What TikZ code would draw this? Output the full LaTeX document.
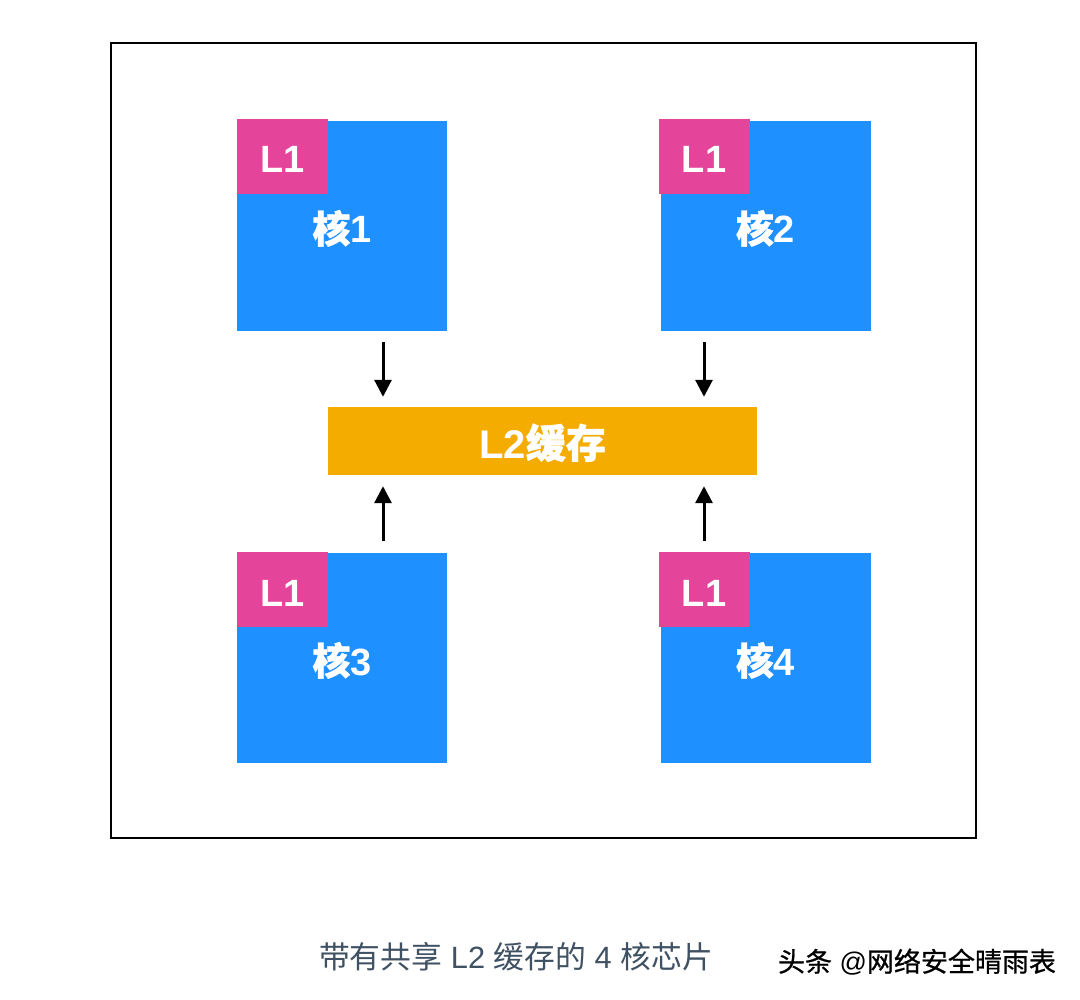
\documentclass[tikz,border=0pt]{standalone}
\usepackage{fontspec}
\setmainfont{Liberation Sans}
\newfontfamily\cjk{Noto Sans CJK SC}
\newfontfamily\heavycjk[FakeBold=1]{Noto Sans CJK SC}
\newfontfamily\markcjk[FakeBold=0.8]{Noto Sans CJK SC}
\usepackage{xcolor}
\usetikzlibrary{arrows.meta}
\definecolor{coreblue}{HTML}{1E90FF}
\definecolor{lonepink}{HTML}{E4459B}
\definecolor{ltwoamber}{HTML}{F4AC00}
\definecolor{captionslate}{HTML}{3F5163}
\tikzset{
    corebox/.style={fill=coreblue, text=white, minimum width=210pt, minimum height=210pt,
        inner sep=0pt, text height=34pt, text depth=0pt, font=\fontsize{38}{38}\selectfont\bfseries},
    lonebox/.style={fill=lonepink, text=white, minimum width=91pt, minimum height=75pt,
        inner sep=0pt, text height=33pt, text depth=0pt, font=\fontsize{38}{38}\selectfont\bfseries},
    flowarrow/.style={line width=3pt, -{Triangle[length=17pt,width=17pt]}}
}
\begin{document}
\begin{tikzpicture}[x=1pt,y=-1pt]
        \useasboundingbox (0,0) rectangle (1080,1000);
        \node [draw=black, line width=1.5pt, minimum width=865pt, minimum height=795pt, inner sep=0pt]
            (chip) at (543.5,440.5) {};

        \node [fill=ltwoamber, text=white, minimum width=429pt, minimum height=68pt, inner sep=0pt,
            text height=34pt, text depth=0pt,
            font=\fontsize{40}{40}\selectfont\bfseries] (cache) at (542.5,441) {L2{\heavycjk 缓存}};

        \foreach \n/\x/\y/\dx/\dy in {1/342/226/0/2,2/765.5/226/-2/2,3/342/658/0/1,4/765.5/658/-2/1}
        {
            \node [corebox] (core\n) at (\x,\y) {{\heavycjk 核}\n};
            \node [lonebox, anchor=north west] (lone\n) at ([xshift=\dx pt,yshift=\dy pt]core\n.north west) {L1};
        }

        \coordinate (left) at (383,0); %arrow column under core 1 and 3
        \coordinate (right) at (704,0); %arrow column under core 2 and 4
        \draw [flowarrow, shorten <=11pt, shorten >=10pt] (core1.south -| left) -- (cache.north -| left);
        \draw [flowarrow, shorten <=11pt, shorten >=10pt] (core2.south -| right) -- (cache.north -| right);
        \draw [flowarrow, shorten <=12pt, shorten >=11pt] (core3.north -| left) -- (cache.south -| left);
        \draw [flowarrow, shorten <=12pt, shorten >=11pt] (core4.north -| right) -- (cache.south -| right);

        \node [text=captionslate, inner sep=0pt, font=\fontsize{30.8}{30.8}\selectfont] (caption) at (516,957)
            {{\cjk 带有共享} L2 {\cjk 缓存的} 4 {\cjk 核芯片}};
        \node [text=black, inner sep=0pt, font=\fontsize{27}{27}\selectfont] (mark) at (917,962)
            {{\markcjk 头条} @{\markcjk 网络安全晴雨表}};
\end{tikzpicture}
\end{document}
